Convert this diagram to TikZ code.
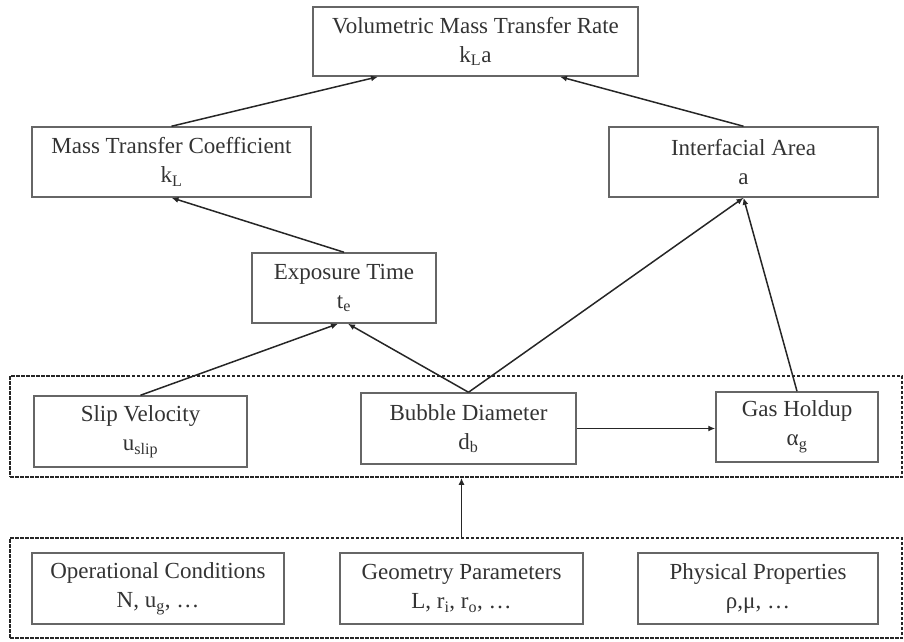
\documentclass[tikz,border=0pt]{standalone}
\usepackage{fontspec}
\setmainfont{Liberation Serif}
\usetikzlibrary{arrows.meta,calc}
\begin{document}
\begin{tikzpicture}[x=1pt,y=-1pt,
  box/.style={draw=black!60,line width=1.5pt,inner sep=0pt,align=center,text=black!80,
    font=\fontsize{23}{29}\selectfont},
  grp/.style={draw=black!85,line width=1.7pt,dash pattern=on 3.5pt off 1.5pt,inner sep=0pt},
  conn/.style={draw=black!85,line width=1.5pt,-{Latex[length=7pt,width=6pt]}}]
\useasboundingbox (0,0) rectangle (904,641);
% groups
\node[grp,minimum width=892pt,minimum height=101pt] (g1) at (456,426.5) {};
\node[grp,minimum width=892pt,minimum height=100pt] (g2) at (456,588) {};
% boxes
\node[box,minimum width=325pt,minimum height=69pt] (top) at (475.5,41.5) {Volumetric Mass Transfer Rate\\k\textsubscript{L}a};
\node[box,minimum width=279pt,minimum height=70pt] (mtc) at (171.5,162) {Mass Transfer Coefficient\\k\textsubscript{L}};
\node[box,minimum width=269pt,minimum height=70pt] (ia) at (743.5,162) {Interfacial Area\\a};
\node[box,minimum width=184pt,minimum height=70pt] (et) at (344,288) {Exposure Time\\t\textsubscript{e}};
\node[box,minimum width=213pt,minimum height=71pt] (sv) at (140.5,431.5) {Slip Velocity\\u\textsubscript{slip}};
\node[box,minimum width=215pt,minimum height=71pt] (bd) at (468.5,428.5) {Bubble Diameter\\d\textsubscript{b}};
\node[box,minimum width=162pt,minimum height=70pt] (gh) at (797,427) {Gas Holdup\\α\textsubscript{g}};
\node[box,minimum width=252pt,minimum height=71pt] (oc) at (158,588.5) {Operational Conditions\\N, u\textsubscript{g}, \dots};
\node[box,minimum width=243pt,minimum height=71pt] (gp) at (461.5,588.5) {Geometry Parameters\\L, r\textsubscript{i}, r\textsubscript{o}, \dots};
\node[box,minimum width=240pt,minimum height=71pt] (pp) at (758,588.5) {Physical Properties\\ρ,μ, \dots};
% connectors
\draw[conn] (mtc.north) -- ([xshift=-97.5pt]top.south);
\draw[conn] (ia.north) -- ([xshift=84.5pt]top.south);
\draw[conn] (et.north) -- (mtc.south);
\draw[conn] (sv.north) -- ([xshift=-6pt]et.south);
\draw[conn] (bd.north) -- ([xshift=4pt]et.south);
\draw[conn] (bd.north) -- (ia.south);
\draw[conn] (gh.north) -- (ia.south);
\draw[conn] (bd.east) -- (bd.east -| gh.west);
\draw[conn] (gp.north |- g2.north) -- (gp.north |- g1.south);
\end{tikzpicture}
\end{document}
